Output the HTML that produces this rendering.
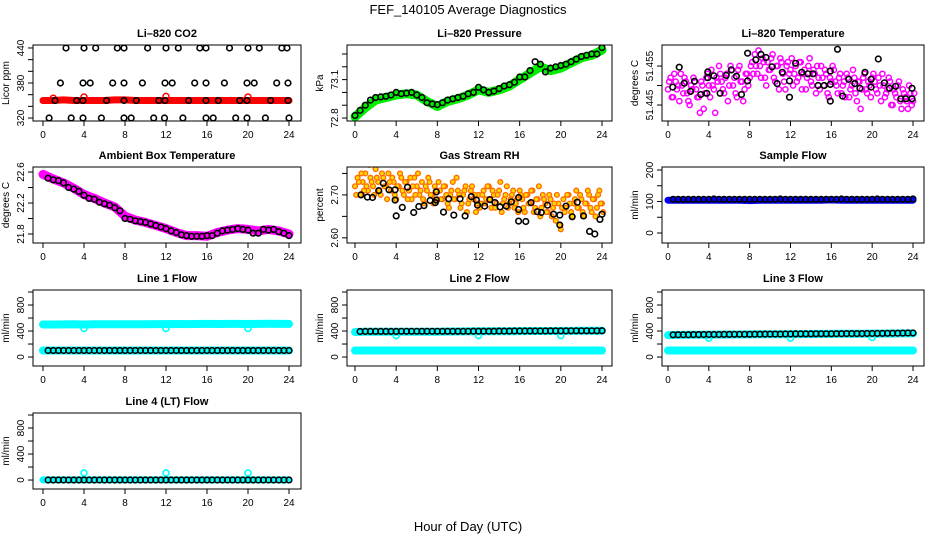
<!DOCTYPE html>
<html><head><meta charset="utf-8"><title>FEF_140105 Average Diagnostics</title>
<style>
html,body{margin:0;padding:0;background:#fff;}
svg{display:block;font-family:"Liberation Sans",Arial,sans-serif;}
</style></head>
<body>
<svg id="chart" width="936" height="540" viewBox="0 0 936 540">
<rect x="0" y="0" width="936" height="540" fill="#fff"/>
<text x="468" y="14" text-anchor="middle" font-size="13">FEF_140105  Average Diagnostics</text>
<text x="468" y="531" text-anchor="middle" font-size="13">Hour of Day (UTC)</text>
</svg>
<script>
// ---------- data ----------
const hrs25 = [0,1,2,3,4,5,6,7,8,9,10,11,12,13,14,15,16,17,18,19,20,21,22,23,24];
const half49 = [0,0.5,1,1.5,2,2.5,3,3.5,4,4.5,5,5.5,6,6.5,7,7.5,8,8.5,9,9.5,10,10.5,11,11.5,12,12.5,13,13.5,14,14.5,15,15.5,16,16.5,17,17.5,18,18.5,19,19.5,20,20.5,21,21.5,22,22.5,23,23.5,24];
const half48 = half49.slice(1);
const dipT = [4,12,20];
const xTicks = [0,4,8,12,16,20,24];

// CO2
const co2BandV = [350,350,351,350,350,350,350,351,351,350,350,350,350,350,350,350,350,350,350,350,350,350,350,350,350];
const co2RedT = [1,4,12,20];
const co2RedV = [354,356,357,356];
const co2T = [2.24,4.0,5.14,7.25,7.9,10.2,12.0,13.2,15.3,15.9,18.2,20.0,21.1,23.3,23.8,
  1.7,3.9,4.6,6.8,7.9,9.7,11.9,12.6,14.8,15.9,17.7,19.9,20.6,22.8,23.9,
  1.17,3.28,3.9,6.2,7.9,9.1,11.3,11.9,14.2,15.9,17.1,19.2,19.9,22.2,23.9,
  0.6,2.75,3.9,5.7,7.9,8.6,10.8,11.85,13.65,15.9,16.6,18.8,19.9,21.7,24.0];
const co2V = [440,440,440,440,440,440,440,440,440,440,440,440,440,440,440,
  380,380,380,380,380,380,380,380,380,380,380,380,380,380,380,
  350,350,350,350,350,350,350,350,350,350,350,350,350,350,350,
  320,320,320,320,320,320,320,320,320,320,320,320,320,320,320];

// Pressure
const presBandV = [72.81,72.88,72.94,72.96,72.98,72.99,72.98,72.93,72.89,72.93,72.95,72.98,73.02,73.0,73.02,73.05,73.1,73.15,73.2,73.17,73.19,73.23,73.27,73.29,73.33];
const presV = [72.82,72.86,72.90,72.94,72.96,72.965,72.97,72.98,73.0,72.99,72.995,73.0,72.98,72.96,72.92,72.91,72.905,72.92,72.94,72.95,72.96,72.97,72.99,73.0,73.04,73.02,73.0,73.01,73.03,73.05,73.06,73.08,73.12,73.12,73.17,73.24,73.22,73.16,73.19,73.2,73.21,73.22,73.24,73.26,73.28,73.29,73.3,73.3,73.35];

// Li-820 temperature
const tempMagA = [51.449,51.452,51.447,51.451,51.450,51.453,51.448,51.451,51.446,51.450,51.452,51.449,51.447,51.451,51.444,51.452,51.450,
 51.454,51.449,51.452,51.455,51.451,51.448,51.453,51.450,51.454,51.452,51.447,51.455,51.451,51.449,51.453,51.452,
 51.456,51.458,51.453,51.455,51.457,51.452,51.456,51.454,51.458,51.451,51.455,51.457,51.453,51.449,51.456,51.454,
 51.450,51.455,51.452,51.456,51.453,51.449,51.455,51.451,51.454,51.448,51.452,51.455,51.450,51.453,51.447,51.451,
 51.454,51.450,51.452,51.448,51.451,51.453,51.447,51.450,51.452,51.446,51.451,51.449,51.453,51.448,51.450,51.452,
 51.451,51.448,51.450,51.453,51.447,51.449,51.451,51.445,51.448,51.450,51.446,51.449,51.447,51.444,51.448,51.446];
const tempMagB = [51.451,51.447,51.453,51.449,51.446,51.450,51.452,51.448,51.445,51.449,51.451,51.447,51.443,51.450,51.448,51.453,51.447,
 51.450,51.443,51.451,51.453,51.449,51.452,51.446,51.455,51.450,51.448,51.454,51.451,51.446,51.453,51.450,51.455,
 51.453,51.455,51.459,51.452,51.456,51.450,51.454,51.457,51.452,51.455,51.449,51.456,51.451,51.455,51.453,51.457,
 51.453,51.451,51.456,51.449,51.454,51.452,51.457,51.450,51.453,51.455,51.449,51.452,51.454,51.448,51.452,51.455,
 51.451,51.448,51.453,51.450,51.447,51.452,51.449,51.454,51.448,51.451,51.444,51.452,51.449,51.451,51.447,51.453,
 51.449,51.452,51.446,51.450,51.448,51.452,51.445,51.449,51.447,51.451,51.444,51.448,51.446,51.450,51.445,51.448];
const tempBlkT = [0.46,1.1,1.6,2.2,2.6,3.2,3.8,3.9,3.9,4.5,5.1,5.7,6.2,6.7,7.2,7.8,7.8,8.6,9.1,9.6,10.2,10.7,11.2,11.9,11.9,12.5,13.1,13.7,14.2,14.7,15.3,15.9,15.9,15.9,16.6,17.1,17.7,18.3,18.8,19.3,19.9,19.9,20.6,21.2,21.7,22.3,22.8,23.3,23.9,23.9];
const tempBlkV = [51.4496,51.4547,51.4506,51.4485,51.4511,51.4477,51.4480,51.4520,51.4535,51.4525,51.4480,51.4526,51.4540,51.4524,51.4477,51.4583,51.4512,51.4566,51.4580,51.4572,51.4548,51.4505,51.4534,51.4512,51.4470,51.4557,51.4534,51.4530,51.4530,51.4500,51.4500,51.4537,51.4503,51.4460,51.4593,51.4473,51.4516,51.4505,51.4493,51.4534,51.4496,51.4516,51.4568,51.4507,51.4493,51.4498,51.4466,51.4466,51.4466,51.4493];

// Ambient box temperature
const ambBandV = [22.57,22.51,22.46,22.39,22.31,22.26,22.2,22.15,22.03,21.98,21.95,21.91,21.87,21.82,21.78,21.78,21.77,21.82,21.85,21.87,21.86,21.84,21.86,21.84,21.80];
const ambV = [22.52,22.50,22.49,22.46,22.4,22.38,22.35,22.3,22.26,22.25,22.21,22.19,22.17,22.14,22.1,22.0,21.99,21.97,21.96,21.95,21.93,21.91,21.89,21.87,21.84,21.82,21.79,21.78,21.77,21.77,21.77,21.78,21.78,21.81,21.84,21.85,21.86,21.87,21.86,21.85,21.81,21.81,21.86,21.85,21.86,21.83,21.81,21.78];

// Gas stream RH
const rhCloudA = [2.72,2.74,2.70,2.73,2.75,2.71,2.74,2.72,2.76,2.73,2.70,2.74,2.72,2.75,2.71,2.73,2.69,
 2.72,2.74,2.70,2.73,2.71,2.69,2.74,2.72,2.70,2.73,2.68,2.71,2.73,2.70,2.72,2.69,
 2.71,2.69,2.72,2.68,2.70,2.73,2.69,2.71,2.67,2.70,2.72,2.68,2.71,2.69,2.66,2.70,
 2.68,2.71,2.69,2.72,2.67,2.70,2.68,2.71,2.66,2.69,2.72,2.68,2.70,2.67,2.69,2.71,
 2.69,2.66,2.70,2.68,2.71,2.67,2.69,2.65,2.70,2.68,2.66,2.69,2.67,2.64,2.68,2.62,
 2.69,2.67,2.70,2.66,2.68,2.71,2.67,2.69,2.65,2.68,2.70,2.66,2.69,2.67,2.71,2.68];
const rhCloudB = [2.70,2.73,2.75,2.71,2.72,2.77,2.73,2.70,2.74,2.71,2.75,2.72,2.69,2.73,2.74,2.70,2.72,
 2.75,2.71,2.73,2.69,2.74,2.72,2.70,2.75,2.71,2.69,2.72,2.74,2.70,2.68,2.71,2.73,
 2.69,2.72,2.70,2.67,2.71,2.69,2.74,2.70,2.68,2.71,2.66,2.69,2.72,2.70,2.68,2.67,
 2.70,2.68,2.72,2.69,2.71,2.67,2.70,2.73,2.68,2.70,2.67,2.69,2.71,2.68,2.66,2.70,
 2.67,2.70,2.68,2.71,2.66,2.69,2.72,2.67,2.69,2.66,2.70,2.65,2.68,2.70,2.63,2.67,
 2.66,2.70,2.68,2.65,2.69,2.67,2.70,2.66,2.68,2.71,2.67,2.69,2.65,2.70,2.68,2.66];
const rhBlkT = [0.58,1.2,1.7,2.3,2.75,3.3,3.9,3.9,4.0,4.6,5.1,5.7,6.2,6.7,7.3,7.8,7.9,7.9,8.6,9.1,9.6,10.2,10.7,11.3,11.8,11.9,12.6,13.1,13.6,14.1,14.7,15.2,15.9,15.9,15.9,16.6,17.1,17.7,18.1,18.7,19.3,19.9,19.9,20.5,21.1,21.6,22.2,22.8,23.3,23.8,24.0];
const rhBlkV = [2.700,2.695,2.694,2.710,2.727,2.712,2.712,2.688,2.651,2.671,2.718,2.659,2.673,2.675,2.687,2.682,2.707,2.688,2.660,2.691,2.653,2.691,2.651,2.696,2.688,2.676,2.674,2.689,2.682,2.672,2.674,2.684,2.694,2.666,2.639,2.638,2.682,2.661,2.659,2.676,2.655,2.653,2.630,2.674,2.649,2.683,2.651,2.615,2.609,2.643,2.655];

// Sample flow
const sampBandV = [104,104,104,104,104,104,104,104,103,104,104,104,104,104,104,104,105,104,104,104,104,104,104,104,104];
const sampV = [107,107,107,107,107,107,107,107,108,107,107,107,107,107,107,107,107,107,107,107,107,108,107,107,107,107,107,107,107,107,107,107,107,108,107,107,107,107,107,107,108,107,107,107,107,107,107,108];

// Line flows
const l1HighV = [500,500,502,503,500,505,504,503,503,504,505,506,507,508,507,508,509,508,509,510,508,510,511,510,510];
const l1LowV = [100,100,100,100,100,100,100,100,100,100,100,100,100,100,100,100,100,100,100,100,100,100,100,100,100];
const l1DipV = [440,440,440];
const l1BlkV = [100,100,100,100,100,100,100,100,100,100,100,100,100,100,100,100,100,100,100,100,100,100,100,100,100,100,100,100,100,100,100,100,100,100,100,100,100,100,100,100,100,100,100,100,100,100,100,100];
const l2HighV = [385,388,389,390,390,390,390,390,390,392,393,394,395,396,397,398,399,400,400,401,402,402,403,403,404];
const l2LowV = [100,100,100,100,100,100,100,100,100,100,100,100,100,100,100,100,100,100,100,100,100,100,100,100,100];
const l2DipV = [330,330,330];
const l2BlkV = [393,394,394,394,394,394,394,394,395,395,395,395,395,395,395,395,396,396,396,396,396,396,397,397,398,398,398,399,399,399,400,400,400,401,401,401,401,402,402,402,402,403,403,403,404,404,404,405];
const l3HighV = [338,340,342,343,344,345,346,347,348,349,350,351,352,353,354,355,356,357,358,359,360,361,362,363,364];
const l3LowV = [100,100,100,100,100,100,100,100,100,100,100,100,100,100,100,100,100,100,100,100,100,100,100,100,100];
const l3DipV = [290,290,300];
const l3BlkV = [342,343,344,344,345,345,346,346,347,347,348,348,349,349,350,350,351,351,352,352,353,353,354,354,355,355,356,356,357,357,358,358,359,359,360,360,361,361,362,362,363,364,365,366,367,368,369,370];
const l4LowV = [2,2,2,2,2,2,2,2,2,2,2,2,2,2,2,2,2,2,2,2,2,2,2,2,2];
const l4DipV = [110,110,110];
const l4BlkV = [0,0,0,0,0,0,0,0,0,0,0,0,0,0,0,0,0,0,0,0,0,0,0,0,0,0,0,0,0,0,0,0,0,0,0,0,0,0,0,0,0,0,0,0,0,0,0,0];

// ---------- drawing ----------
const NS = "http://www.w3.org/2000/svg";
const svg = document.getElementById("chart");
const COLS = [{l:33,r:301,x0:43,x24:289},{l:347,r:612,x0:355,x24:602},{l:662,r:924,x0:668,x24:913}];
const ROWS = [45,167,290,413];
const PH = 76;
let clipN = 0;

function mk(tag, attrs, parent){
  const e = document.createElementNS(NS, tag);
  for (const k in attrs) e.setAttribute(k, attrs[k]);
  parent.appendChild(e);
  return e;
}

function panel(name, title, ytitle, c, r, ymin, ymax, yticks, ylabels){
  const C = COLS[c], top = ROWS[r], bot = top + PH;
  const g = mk("g", {}, svg);
  
  
  const sx = h => C.x0 + h/24*(C.x24 - C.x0);
  const sy = v => bot - (v - ymin)/(ymax - ymin)*PH;
  clipN++;
  const cp = mk("clipPath", {id: "cp"+clipN}, g);
  mk("rect", {x:C.l, y:top, width:C.r-C.l, height:PH}, cp);
  const marks = mk("g", {"clip-path": "url(#cp"+clipN+")"}, g);
  
  
  const box = mk("rect", {x:C.l, y:top, width:C.r-C.l, height:PH, fill:"none", stroke:"#000", "stroke-width":1}, g);
  
  
  const t = mk("text", {x:(C.l+C.r)/2, y:top-8, "text-anchor":"middle", "font-size":11, "font-weight":"bold"}, g);
  t.textContent = title;
  
  
  const yt = mk("text", {x:0, y:0, "text-anchor":"middle", "font-size":10, transform:"translate("+(C.l-24)+","+((top+bot)/2)+") rotate(-90)"}, g);
  yt.textContent = ytitle;
  
  
  const xa = mk("g", {}, g);
  
  
  mk("line", {x1:sx(0), x2:sx(24), y1:bot, y2:bot, stroke:"#000"}, xa);
  xTicks.forEach(h => {
    mk("line", {x1:sx(h), x2:sx(h), y1:bot, y2:bot+5, stroke:"#000"}, xa);
    const tl = mk("text", {x:sx(h), y:bot+17, "text-anchor":"middle", "font-size":10}, xa);
    tl.textContent = String(h);
    
    
  });
  const ya = mk("g", {}, g);
  
  
  mk("line", {x1:C.l, x2:C.l, y1:sy(yticks[0]), y2:sy(yticks[yticks.length-1]), stroke:"#000"}, ya);
  yticks.forEach(v => mk("line", {x1:C.l-5, x2:C.l, y1:sy(v), y2:sy(v), stroke:"#000"}, ya));
  ylabels.forEach(v => {
    const yl = mk("text", {x:0, y:0, "text-anchor":"middle", "font-size":10, transform:"translate("+(C.l-9)+","+sy(v)+") rotate(-90)"}, ya);
    yl.textContent = String(v);
    
    
  });
  return {sx, sy, g: marks};
}

function band(P, ts, vs, color, w, name){
  const pts = ts.map((t,i) => P.sx(t).toFixed(1)+","+P.sy(vs[i]).toFixed(1)).join(" ");
  const pl = mk("polyline", {points:pts, fill:"none", stroke:color, "stroke-width":w, "stroke-linejoin":"round", "stroke-linecap":"round"}, P.g);
  
  
}

function dots(P, ts, vs, color, r, sw, name, fill){
  const gg = mk("g", {}, P.g);
  
  
  ts.forEach((t,i) => {
    const c = mk("circle", {cx:P.sx(t).toFixed(1), cy:P.sy(vs[i]).toFixed(1), r:r, fill:fill||"none", stroke:color, "stroke-width":sw}, gg);
    
    
  });
}

const quarter97 = [];
for (let i = 0; i <= 96; i++) quarter97.push(i*0.25);
const quarter97b = quarter97.map(t => t + 0.12);

const flowTicks = [0,200,400,600,800,1000];
const flowLabels = [0,400,800];

// Li-820 CO2
let P = panel("co2", "Li\u2013820 CO2", "Licor ppm", 0, 0, 314.9, 445.1, [320,340,360,380,400,420,440], [320,380,440]);
band(P, hrs25, co2BandV, "#ff0000", 7, "co2-red-band");
dots(P, co2RedT, co2RedV, "#ff0000", 3, 1.5, "co2-red-series");
dots(P, co2T, co2V, "#000", 2.8, 1.6, "co2-black-series");

// Pressure
P = panel("pressure", "Li\u2013820 Pressure", "kPa", 1, 0, 72.777, 73.37, [72.8,72.9,73.0,73.1,73.2,73.3], [72.8,73.1]);
band(P, hrs25, presBandV, "#00ee00", 9, "pressure-green-band");
dots(P, half49, presV, "#000", 2.8, 1.6, "pressure-black-series");

// Li-820 temperature
P = panel("li820-temp", "Li\u2013820 Temperature", "degrees C", 2, 0, 51.4409, 51.4604, [51.445,51.450,51.455], [51.445,51.455]);
dots(P, quarter97, tempMagA, "#ff00ff", 2.6, 1.5, "temp-magenta-series-a");
dots(P, quarter97b, tempMagB, "#ff00ff", 2.6, 1.5, "temp-magenta-series-b");
dots(P, tempBlkT, tempBlkV, "#000", 2.8, 1.6, "temp-black-series");

// Ambient box temperature
P = panel("ambient-temp", "Ambient Box Temperature", "degrees C", 0, 1, 21.684, 22.665, [21.8,22.0,22.2,22.4,22.6], [21.8,22.2,22.6]);
band(P, hrs25, ambBandV, "#ff00ff", 9, "ambient-magenta-band");
dots(P, half48, ambV, "#000", 2.8, 1.6, "ambient-black-series");

// Gas stream RH
P = panel("rh", "Gas Stream RH", "percent", 1, 1, 2.588, 2.765, [2.60,2.65,2.70,2.75], ["2.60","2.70"]);
dots(P, quarter97, rhCloudA, "#ff6a00", 2.4, 1.3, "rh-orange-series-a", "#ffd700");
dots(P, quarter97b, rhCloudB, "#ff6a00", 2.4, 1.3, "rh-orange-series-b", "#ffd700");
dots(P, rhBlkT, rhBlkV, "#000", 2.8, 1.6, "rh-black-series");

// Sample flow
P = panel("sample-flow", "Sample Flow", "ml/min", 2, 1, -31.7, 209.5, [0,50,100,150,200], [0,100,200]);
band(P, hrs25, sampBandV, "#0000ff", 7, "sample-blue-band");
dots(P, half48, sampV, "#000", 2.8, 1.6, "sample-black-series");

// Line 1
P = panel("line1", "Line 1 Flow", "ml/min", 0, 2, -138, 1031, flowTicks, flowLabels);
band(P, hrs25, l1HighV, "#00ffff", 8, "line1-cyan-high-band");
band(P, hrs25, l1LowV, "#00ffff", 8, "line1-cyan-low-band");
dots(P, dipT, l1DipV, "#00ffff", 3, 1.6, "line1-cyan-dips");
dots(P, half48, l1BlkV, "#000", 2.8, 1.6, "line1-black-series");

// Line 2
P = panel("line2", "Line 2 Flow", "ml/min", 1, 2, -138, 1031, flowTicks, flowLabels);
band(P, hrs25, l2HighV, "#00ffff", 8, "line2-cyan-high-band");
band(P, hrs25, l2LowV, "#00ffff", 8, "line2-cyan-low-band");
dots(P, dipT, l2DipV, "#00ffff", 3, 1.6, "line2-cyan-dips");
dots(P, half48, l2BlkV, "#000", 2.8, 1.6, "line2-black-series");

// Line 3
P = panel("line3", "Line 3 Flow", "ml/min", 2, 2, -138, 1031, flowTicks, flowLabels);
band(P, hrs25, l3HighV, "#00ffff", 8, "line3-cyan-high-band");
band(P, hrs25, l3LowV, "#00ffff", 8, "line3-cyan-low-band");
dots(P, dipT, l3DipV, "#00ffff", 3, 1.6, "line3-cyan-dips");
dots(P, half48, l3BlkV, "#000", 2.8, 1.6, "line3-black-series");

// Line 4
P = panel("line4", "Line 4 (LT) Flow", "ml/min", 0, 3, -138, 1031, flowTicks, flowLabels);
band(P, hrs25, l4LowV, "#00ffff", 7, "line4-cyan-band");
dots(P, dipT, l4DipV, "#00ffff", 3, 1.6, "line4-cyan-dips");
dots(P, half48, l4BlkV, "#000", 2.8, 1.6, "line4-black-series");
</script>
</body></html>
